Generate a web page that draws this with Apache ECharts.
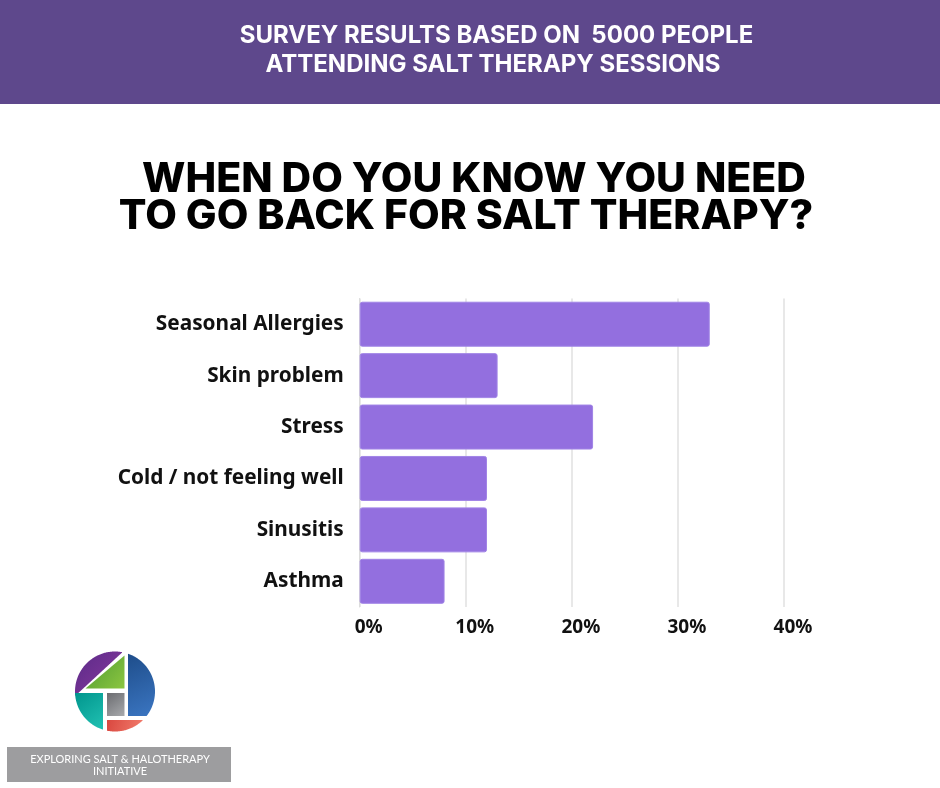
<!DOCTYPE html>
<html>
<head>
<meta charset="utf-8">
<script src="https://cdn.jsdelivr.net/npm/echarts@6/dist/echarts.min.js"></script>
<style>
html,body{margin:0;padding:0;background:#fff;}
#chart{width:940px;height:788px;}
</style>
</head>
<body>
<div id="chart"></div>
<script>
const categories = ['Seasonal Allergies','Skin problem','Stress','Cold / not feeling well','Sinusitis','Asthma'];
const values = [33, 13, 22, 12, 12, 8];
const tickValues = [0, 10, 20, 30, 40];
const headerLines = ['SURVEY RESULTS BASED ON  5000 PEOPLE','ATTENDING SALT THERAPY SESSIONS'];
const titleLines = ['WHEN DO YOU KNOW YOU NEED','TO GO BACK FOR SALT THERAPY?'];
const logoLines = ['EXPLORING SALT & HALOTHERAPY','INITIATIVE'];

const chart = echarts.init(document.getElementById('chart'), null, {renderer:'canvas'});

// logo helpers (decoration)
const LC = {x:115, y:691.5, r:40};
function insideConvex(p, poly){
  let sign = 0;
  for (let i=0;i<poly.length;i++){
    const a=poly[i], b=poly[(i+1)%poly.length];
    const c=(b[0]-a[0])*(p[1]-a[1])-(b[1]-a[1])*(p[0]-a[0]);
    if (Math.abs(c)<1e-9) continue;
    const s=c>0?1:-1;
    if (sign===0) sign=s; else if (s!==sign) return false;
  }
  return true;
}
function clipCircle(poly){
  const pts=[];
  for (let i=0;i<360;i++){
    const t=i/360*Math.PI*2;
    const p=[LC.x+LC.r*Math.cos(t), LC.y+LC.r*Math.sin(t)];
    if (insideConvex(p,poly)) pts.push(p);
  }
  for (let i=0;i<poly.length;i++){
    const a=poly[i], b=poly[(i+1)%poly.length];
    for (let k=0;k<=120;k++){
      const p=[a[0]+(b[0]-a[0])*k/120, a[1]+(b[1]-a[1])*k/120];
      if ((p[0]-LC.x)**2+(p[1]-LC.y)**2 <= LC.r*LC.r) pts.push(p);
    }
  }
  let cx=0, cy=0; pts.forEach(p=>{cx+=p[0];cy+=p[1];}); cx/=pts.length; cy/=pts.length;
  pts.sort((p,q)=>Math.atan2(p[1]-cy,p[0]-cx)-Math.atan2(q[1]-cy,q[0]-cx));
  return pts;
}
function grad(c1,c2){
  return {type:'linear',x:0,y:0,x2:1,y2:1,colorStops:[{offset:0,color:c1},{offset:1,color:c2}]};
}
function piece(poly,c1,c2){
  return {type:'polygon', shape:{points:clipCircle(poly)}, style:{fill:grad(c1,c2)}, z:10};
}

const logo = [
  piece([[60,630],[127,630],[127,648],[74,697],[60,697]], '#5a2a88', '#8a3a9e'),
  {type:'polygon', shape:{points:[[124.5,655.5],[124.5,688.5],[85.5,688.5]]}, style:{fill:grad('#4e9a33','#8cc640')}, z:10},
  piece([[128,630],[170,630],[170,716],[128,716]], '#1e4d8a', '#3b76c2'),
  piece([[60,693],[103,693],[103,745],[60,745]], '#00958d', '#22c2b3'),
  {type:'rect', shape:{x:107, y:693, width:17.5, height:23}, style:{fill:grad('#6b6c70','#a8aaad')}, z:10},
  piece([[107,720],[170,720],[170,745],[107,745]], '#d9473f', '#f27d6d')
];

const option = {
  backgroundColor:'#ffffff',
  animation:false,
  grid:{left:359.7, right:156, top:298.5, bottom:181, containLabel:false},
  xAxis:{
    type:'value', min:0, max:40, interval:10,
    axisLine:{show:false}, axisTick:{show:false},
    splitLine:{show:true, lineStyle:{color:'#e0e0e0', width:1.5}},
    axisLabel:{
      formatter: v => tickValues.includes(v) ? v + '%' : '',
      margin:11, padding:[0,0,0,18],
      color:'#111', fontFamily:'Noto Sans', fontWeight:'bold', fontSize:19
    }
  },
  yAxis:{
    type:'category', data:categories, inverse:true,
    axisLine:{show:true, lineStyle:{color:'#dcdcdc', width:1}},
    axisTick:{show:false},
    splitLine:{show:false},
    axisLabel:{margin:16, padding:[5,0,0,0], color:'#111', fontFamily:'Noto Sans', fontWeight:'bold', fontSize:20.8}
  },
  series:[{
    type:'bar', data:values, barCategoryGap:'12.5%',
    itemStyle:{color:'#936fdf', borderRadius:2, borderColor:'#a184e6', borderWidth:1},
    z:3
  }],
  graphic:[
    {type:'rect', shape:{x:0,y:0,width:940,height:104}, style:{fill:'#5e488c'}, z:1},
    {type:'text', x:496.5, y:36, style:{text:headerLines[0], fill:'#fff', font:'bold 24px Inter', textAlign:'center', textVerticalAlign:'middle'}, z:5},
    {type:'text', x:493, y:65, style:{text:headerLines[1], fill:'#fff', font:'bold 24px Inter', textAlign:'center', textVerticalAlign:'middle'}, z:5},
    {type:'text', x:474, y:180, style:{text:titleLines[0], fill:'#000', font:'800 41px Inter', textAlign:'center', textVerticalAlign:'middle'}, z:5},
    {type:'text', x:466, y:217, style:{text:titleLines[1], fill:'#000', font:'800 41px Inter', textAlign:'center', textVerticalAlign:'middle'}, z:5},
    ...logo,
    {type:'rect', shape:{x:7,y:747,width:224,height:35}, style:{fill:'#9d9d9f'}, z:5},
    {type:'text', x:120, y:759, style:{text:logoLines[0], fill:'#fff', font:'11px Lato', textAlign:'center', textVerticalAlign:'middle'}, z:6},
    {type:'text', x:120, y:771.5, style:{text:logoLines[1], fill:'#fff', font:'11px Lato', textAlign:'center', textVerticalAlign:'middle'}, z:6}
  ]
};
chart.setOption(option);
</script>
</body>
</html>
